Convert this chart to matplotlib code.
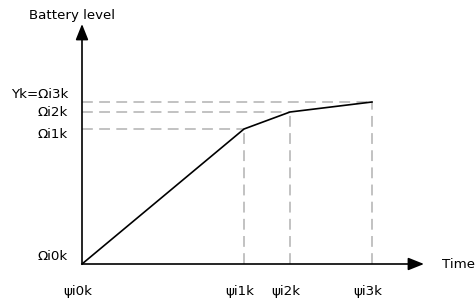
import matplotlib.pyplot as plt

# breakpoints of the battery charge curve
time_points = [0, 162, 208, 290]
battery_levels = [0, 135, 152, 162]
x_tick_labels = ["ψi0k", "ψi1k", "ψi2k", "ψi3k"]
y_tick_labels = ["Ωi0k", "Ωi1k", "Ωi2k", "Yk=Ωi3k"]

plt.rcParams["font.family"] = ["DejaVu Sans"]
plt.rcParams["font.size"] = 9.6

fig = plt.figure(figsize=(4.77, 3.03), dpi=100)
ax = fig.add_axes([0, 0, 1, 1])
ax.set_xlim(-82, 395)
ax.set_ylim(-39, 264)
ax.axis("off")

dash_style = dict(color="#bdbdbd", linewidth=1.3, dashes=(6, 3.5))
for x, y in zip(time_points[1:], battery_levels[1:]):
    ax.plot([0, x], [y, y], **dash_style)
    ax.plot([x, x], [0, y], **dash_style)

ax.plot(time_points, battery_levels, color="black", linewidth=1.2)

arrow = dict(arrowstyle="-|>,head_length=1.0,head_width=0.4", color="black",
             linewidth=1.2, shrinkA=0, shrinkB=0)
ax.annotate("", xy=(342, 0), xytext=(0, 0), arrowprops=arrow)
ax.annotate("", xy=(0, 240), xytext=(0, 0), arrowprops=arrow)

ax.text(360, 0, "Time", ha="left", va="center")
ax.text(-10, 249, "Battery level", ha="center", va="center")

for x, label in zip(time_points, x_tick_labels):
    ax.text(x - 4, -28, label, ha="center", va="center")

# labels sit a little off their dashed lines so they do not collide
y_offsets = [8, -6, -1, 8]
for y, dy, label in zip(battery_levels, y_offsets, y_tick_labels):
    ax.text(-14, y + dy, label, ha="right", va="center")

fig.savefig("out.png", dpi=100)
plt.close(fig)
